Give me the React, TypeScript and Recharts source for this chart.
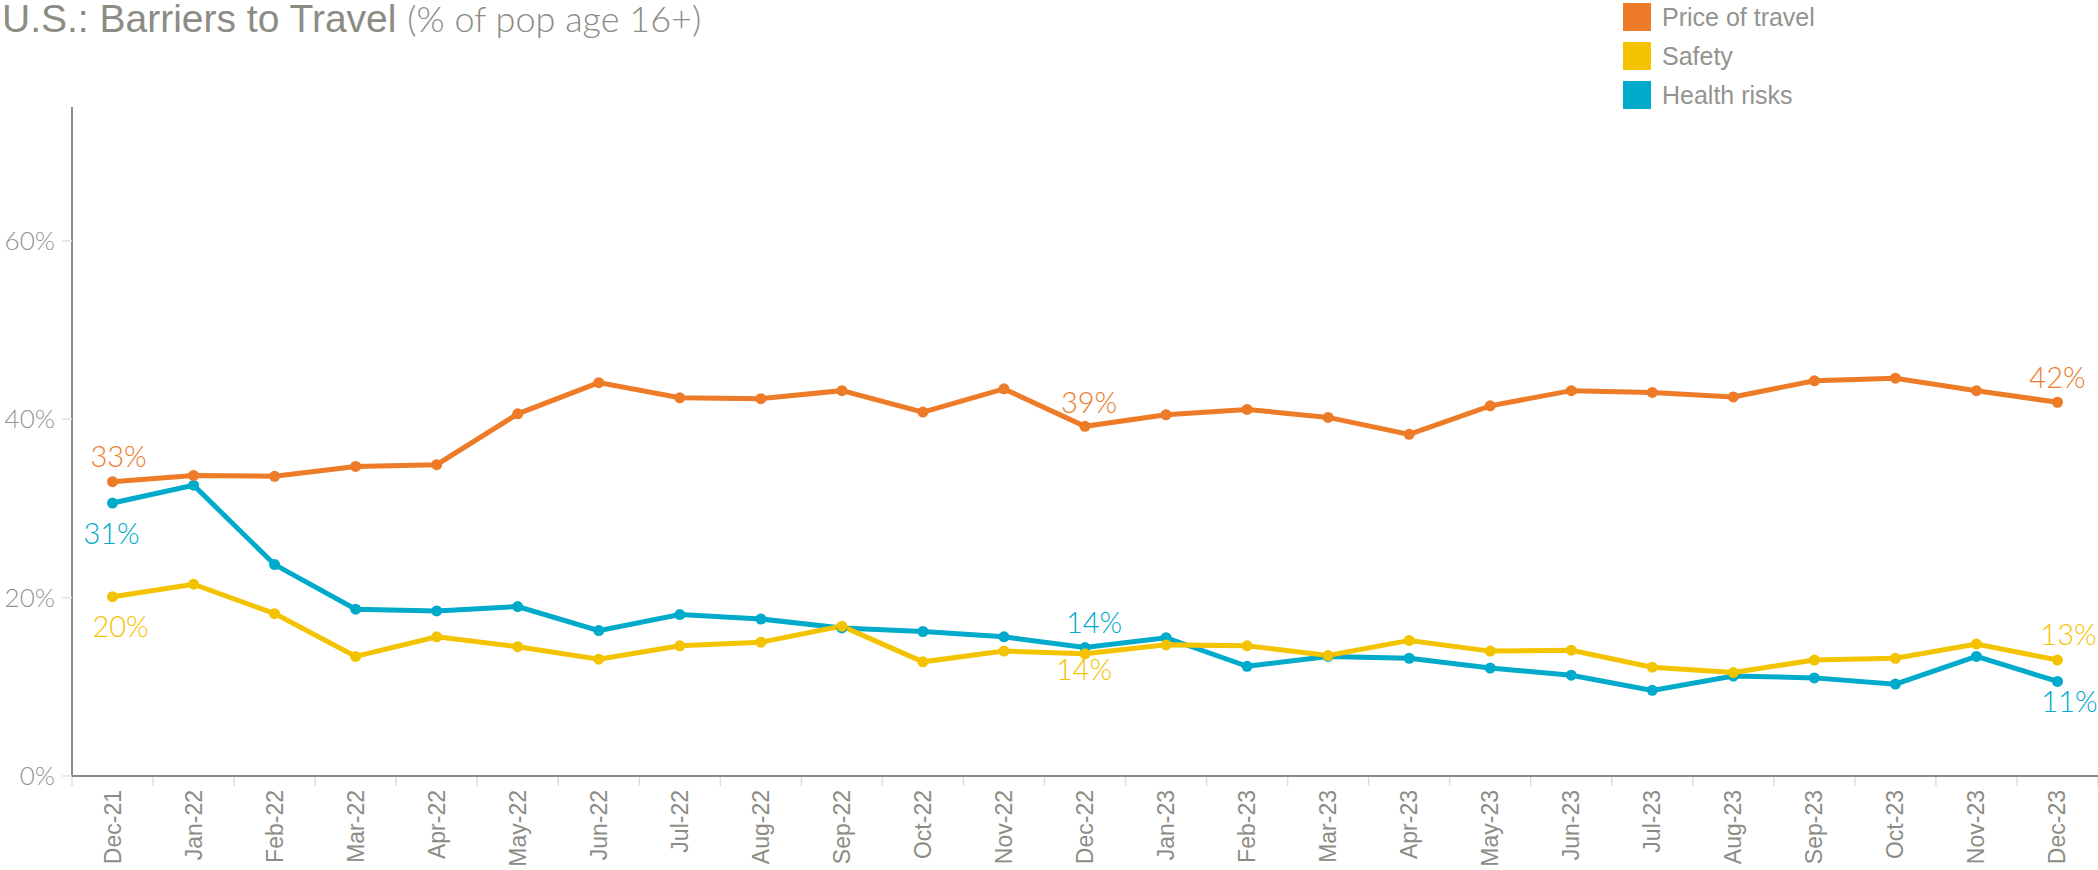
import { LineChart, Line, XAxis, YAxis, LabelList } from 'recharts';

const months = [
  'Dec-21', 'Jan-22', 'Feb-22', 'Mar-22', 'Apr-22', 'May-22', 'Jun-22', 'Jul-22', 'Aug-22',
  'Sep-22', 'Oct-22', 'Nov-22', 'Dec-22', 'Jan-23', 'Feb-23', 'Mar-23', 'Apr-23', 'May-23',
  'Jun-23', 'Jul-23', 'Aug-23', 'Sep-23', 'Oct-23', 'Nov-23', 'Dec-23',
];
const priceOfTravel = [33.0, 33.7, 33.6, 34.7, 34.9, 40.6, 44.1, 42.4, 42.3, 43.2, 40.8, 43.4, 39.2, 40.5, 41.1, 40.2, 38.3, 41.5, 43.2, 43.0, 42.5, 44.3, 44.6, 43.2, 41.9];
const safety = [20.1, 21.5, 18.2, 13.4, 15.6, 14.5, 13.1, 14.6, 15.0, 16.8, 12.8, 14.0, 13.7, 14.7, 14.6, 13.5, 15.2, 14.0, 14.1, 12.2, 11.6, 13.0, 13.2, 14.8, 13.0];
const healthRisks = [30.6, 32.6, 23.7, 18.7, 18.5, 19.0, 16.3, 18.1, 17.6, 16.6, 16.2, 15.6, 14.4, 15.5, 12.3, 13.4, 13.2, 12.1, 11.3, 9.6, 11.2, 11.0, 10.3, 13.4, 10.6];
const yTicks = [0, 20, 40, 60];

const data = months.map((m, i) => ({
  month: m,
  price: priceOfTravel[i],
  safety: safety[i],
  health: healthRisks[i],
}));

const ORANGE = '#ED7B27';
const YELLOW = '#F4C300';
const TEAL = '#00AACA';
const GRAY = '#8c8c85';

const W = 2098;
const H = 870;
const LEFT = 72;
const HALF_BAND = (W - LEFT) / months.length / 2;

// which points get a value label, and where it sits
const priceLabels: any = { 0: [6, -15], 12: [4, -13], 24: [0, -14] };
const healthLabels: any = { 0: [-1, 41], 12: [9, -15], 24: [12, 31] };
const safetyLabels: any = { 0: [8, 40], 12: [-1, 26], 24: [11, -15] };

const makeLabel = (cfg: any, color: string) => (props: any) => {
  const { x, y, value, index } = props;
  const c = cfg[index];
  if (!c) return null;
  return (
    <text
      x={x + c[0]}
      y={y + c[1]}
      textAnchor="middle"
      fill={color}
      style={{ fontFamily: 'Lato', fontWeight: 300, fontSize: 29 }}
    >
      {`${Math.round(value)}%`}
    </text>
  );
};

const MonthTick = (props: any) => {
  const { x, y, payload, index } = props;
  return (
    <g>
      <line x1={x - HALF_BAND} x2={x - HALF_BAND} y1={y + 1} y2={y + 10} stroke="#dedede" strokeWidth={1.5} />
      {index === months.length - 1 && (
        <line x1={x + HALF_BAND} x2={x + HALF_BAND} y1={y + 1} y2={y + 10} stroke="#dedede" strokeWidth={1.5} />
      )}
      <text
        transform={`translate(${x},${y + 14}) rotate(-90)`}
        textAnchor="end"
        dominantBaseline="central"
        fill={GRAY}
        style={{ fontFamily: 'Liberation Sans', fontSize: 23 }}
      >
        {payload.value}
      </text>
    </g>
  );
};

const legendItems = [
  { name: 'Price of travel', color: ORANGE },
  { name: 'Safety', color: YELLOW },
  { name: 'Health risks', color: TEAL },
];

export default function App() {
  return (
    <div style={{ position: 'absolute', left: 0, top: 0, width: W, height: H, background: '#fff' }}>
      <div
        style={{
          position: 'absolute',
          left: 2,
          top: -4,
          whiteSpace: 'nowrap',
          color: GRAY,
          fontFamily: 'Liberation Sans',
          fontSize: 39,
        }}
      >
        U.S.: Barriers to Travel <span style={{ fontFamily: 'Lato', fontWeight: 300, fontSize: 36 }}>(% of pop age 16+)</span>
      </div>
      <div style={{ position: 'absolute', left: 1623, top: 3 }}>
        {legendItems.map((it) => (
          <div key={it.name} style={{ display: 'flex', alignItems: 'center', height: 28, marginBottom: 11 }}>
            <div style={{ width: 28, height: 28, background: it.color }} />
            <span style={{ marginLeft: 11, color: '#939390', fontFamily: 'Liberation Sans', fontSize: 25 }}>{it.name}</span>
          </div>
        ))}
      </div>
      <div style={{ position: 'absolute', left: 0, top: 0 }}>
        <LineChart width={W} height={H} data={data} margin={{ top: 107, right: 0, bottom: 0, left: 0 }}>
          <XAxis
            dataKey="month"
            interval={0}
            height={94}
            padding={{ left: HALF_BAND, right: HALF_BAND }}
            tickSize={0}
            tickMargin={0}
            tickLine={false}
            axisLine={{ stroke: GRAY, strokeWidth: 2 }}
            tick={<MonthTick />}
          />
          <YAxis
            width={LEFT}
            domain={[0, 75]}
            ticks={yTicks}
            tickFormatter={(v) => `${v}%`}
            tickSize={10}
            tickMargin={7}
            tickLine={{ stroke: '#e2e2e2', strokeWidth: 1.5 }}
            axisLine={{ stroke: GRAY, strokeWidth: 2 }}
            tick={{ fill: '#939390', fontFamily: 'Lato', fontWeight: 300, fontSize: 26 }}
          />
          <Line
            dataKey="health"
            stroke={TEAL}
            strokeWidth={5}
            dot={{ r: 5.5, fill: TEAL, stroke: TEAL, strokeWidth: 0 }}
            isAnimationActive={false}
          >
            <LabelList dataKey="health" content={makeLabel(healthLabels, TEAL)} />
          </Line>
          <Line
            dataKey="safety"
            stroke={YELLOW}
            strokeWidth={5}
            dot={{ r: 5.5, fill: YELLOW, stroke: YELLOW, strokeWidth: 0 }}
            isAnimationActive={false}
          >
            <LabelList dataKey="safety" content={makeLabel(safetyLabels, YELLOW)} />
          </Line>
          <Line
            dataKey="price"
            stroke={ORANGE}
            strokeWidth={5}
            dot={{ r: 5.5, fill: ORANGE, stroke: ORANGE, strokeWidth: 0 }}
            isAnimationActive={false}
          >
            <LabelList dataKey="price" content={makeLabel(priceLabels, ORANGE)} />
          </Line>
        </LineChart>
      </div>
    </div>
  );
}
